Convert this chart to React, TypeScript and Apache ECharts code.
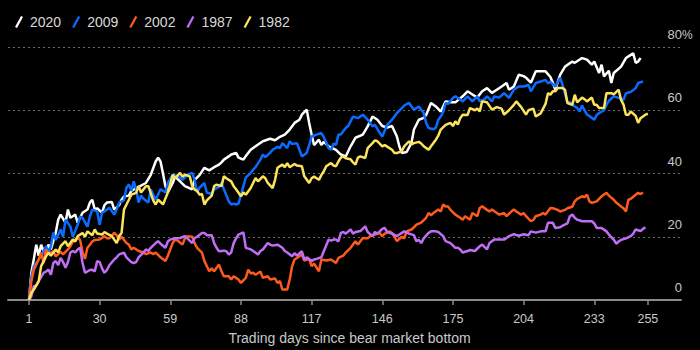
import React, { useEffect, useRef } from 'react';
import * as echarts from 'echarts';

const FONT = "'Liberation Sans', Arial, sans-serif";

const seriesNames = ['2020', '2009', '2002', '1987', '1982'];
const seriesColors = ['#ffffff', '#0a6cff', '#ff5a1e', '#bf6ef5', '#fde35c'];
const tickDays = [1, 30, 59, 88, 117, 146, 175, 204, 233, 255];
const axisTitle = 'Trading days since bear market bottom';

// [trading day, % gain]
const s2020 = [[1,0],[2,8.7],[3,13],[4,17.5],[5,14],[6,17.5],[7,15.5],[8,15],[9,17.5],[10,16],[12,21.3],[13,25.4],[14,27],[16,24.5],[17,28.6],[18,26],[19,26.5],[20,27],[21,24.5],[23,27.6],[25,28.6],[26,30.8],[27,31.7],[28,28.6],[29,29],[31,27.6],[32,30],[33,30.8],[35,31],[36,28.6],[38,30],[39,31.7],[40,32.7],[42,33],[43,34.5],[46,35.8],[49,37],[51,39.6],[53,43.8],[54,45],[55,43.8],[56,40],[57,36],[58,34],[60,37],[61,39],[63,37.5],[65,36],[68,35],[69,38],[71,39.5],[73,41.8],[75,41],[77,42],[79,42.8],[80,43.5],[81,44.4],[83,45.4],[84,46],[86,46.5],[87,45],[89,44.4],[90,45.5],[92,47.5],[94,48.6],[97,50.2],[100,51],[102,50.5],[104,51.6],[106,52.3],[108,53.9],[110,56],[112,57],[113,58.6],[115,60.2],[116,56],[117,52.3],[118,49],[120,50.7],[121,49],[122,50],[124,48.6],[127,47.5],[129,46],[131,45.4],[133,48.6],[135,51.3],[138,52.3],[140,54.9],[142,58],[144,57],[146,55],[148,54.5],[150,55],[152,51.7],[153,48.6],[154,46.5],[156,46.8],[158,49.7],[159,53.9],[161,57],[163,57.6],[164,58.5],[166,62.3],[168,61.2],[170,59.6],[172,62.8],[174,62.5],[176,62.5],[179,64.4],[181,66],[183,65],[185,64],[187,66],[189,67],[191,65.5],[193,66.5],[195,67.5],[197,68.6],[198,66.5],[200,67.5],[202,71.2],[204,70.8],[205,70.3],[207,68.7],[209,72.3],[211,72.3],[213,72.3],[215,70.5],[216,68.7],[217,66.5],[219,71.2],[221,73.8],[224,75.4],[225,75],[228,76.5],[230,76],[232,74.4],[233,75.4],[235,71.8],[236,74.4],[237,70.7],[239,72.5],[240,68.6],[241,71.8],[244,73.8],[246,76.5],[248,77.5],[249,78],[250,75],[251,75.4],[252,76.5]];

const s2009 = [[1,1],[2,7.4],[3,10.6],[5,12.8],[6,13.8],[8,17],[9,15],[10,17],[11,21.3],[12,19],[14,22.3],[15,20],[16,25.4],[18,23.2],[19,20],[21,23.8],[22,26.4],[23,26],[25,23.2],[26,26.4],[27,28.6],[29,28],[30,23.8],[31,27.6],[32,28],[34,29.2],[36,27],[37,28.6],[38,30.8],[40,31.5],[41,35.5],[42,36.5],[43,34.5],[44,37.5],[45,35],[46,30.8],[47,33],[48,32],[50,30.8],[51,35],[53,31.7],[55,35],[57,34],[58,37],[60,39.6],[62,39.3],[64,38],[66,39.6],[68,40.2],[69,38],[70,34],[71,35.5],[73,37],[74,34],[76,33.5],[77,35],[79,35.8],[80,37],[81,35],[83,31.2],[84,30.2],[85,30.5],[86,30.2],[87,30.5],[89,36],[90,38.7],[92,40.2],[93,41.2],[94,42],[96,44.4],[97,46],[98,45.2],[100,46.6],[101,47.5],[103,48.4],[104,48],[105,49.6],[107,48],[108,50.2],[109,49.3],[111,49.6],[112,47.5],[113,45.4],[115,46.5],[116,49],[117,51.7],[119,52.3],[121,52.8],[122,51.5],[124,48],[125,47.5],[126,49.5],[127,49],[128,52.3],[129,52.3],[131,54.4],[132,55],[134,58],[136,57.5],[138,58.6],[140,57],[142,54.9],[143,55.4],[145,52.8],[146,51.7],[148,55.4],[150,57],[152,59.1],[154,60.7],[155,61.5],[157,62.3],[158,61.2],[159,60.2],[161,61.2],[163,59.1],[164,56],[165,54.4],[167,54],[168,54.5],[169,57],[170,58],[171,59.5],[172,62.3],[173,62],[175,63.9],[176,64.4],[179,62.8],[181,64.4],[183,62.8],[185,64.4],[186,62.8],[188,63.5],[189,64.4],[191,62.8],[192,64.4],[194,64],[196,65.4],[198,63.9],[200,66.5],[202,67.5],[204,67.5],[206,68],[207,66],[209,68.6],[211,69.1],[213,69.6],[214,68.5],[215,69],[217,67.5],[219,70.2],[220,68],[222,62.3],[223,62.6],[224,61.7],[226,60.7],[227,59.6],[228,61.5],[230,58.6],[231,58.2],[233,57],[234,58.5],[235,59.1],[237,60],[238,61.7],[239,63],[241,64.4],[243,63.9],[245,63.3],[246,65.4],[248,65.8],[250,67],[251,68.6],[253,69.1]];

const s2002 = [[1,0],[2,6],[3,9.6],[5,12.8],[6,15],[7,11.7],[8,16],[9,14.5],[11,15.4],[12,13.8],[14,15.2],[15,14.4],[17,16],[18,17],[19,18.5],[21,19.6],[22,19],[23,15],[24,13],[25,16.5],[26,17.5],[27,18.5],[28,19],[30,19.1],[32,20.2],[33,19.5],[34,19.5],[36,21.2],[37,20.5],[38,19.1],[39,20],[41,18],[42,17.5],[43,16],[44,16.5],[46,15.5],[48,15],[49,14.5],[51,15],[52,14.5],[53,15],[55,13.5],[57,12.3],[58,14],[60,18],[61,19.1],[62,18.8],[64,17.5],[65,19.5],[66,20.2],[68,20],[69,18],[70,16.5],[72,15],[73,12.3],[75,9.1],[76,10],[77,9.1],[79,11.2],[80,9.1],[81,7.5],[83,7.5],[84,6.5],[85,7.5],[86,7],[87,6.5],[88,5.4],[90,7],[91,9.6],[92,8.4],[93,8.6],[94,8],[96,9],[97,7],[99,7.5],[100,6.5],[102,6.8],[103,5.4],[104,6],[105,3.3],[107,3.3],[108,6.5],[109,10.7],[110,12.8],[111,13.3],[113,14.4],[114,12.5],[116,13],[117,10.7],[118,11.5],[120,9.1],[121,12.8],[123,12.5],[125,12.8],[127,11.7],[128,13.3],[130,14],[131,15],[133,16.5],[135,18.6],[136,17.5],[137,18.6],[138,19.6],[140,19.5],[141,20.2],[143,20.7],[145,21.2],[146,20.2],[147,21],[149,21.7],[150,21.2],[151,20],[152,18.6],[154,20],[155,19.5],[156,21.7],[158,22.3],[159,23],[160,23.8],[162,24.5],[164,26],[165,27.5],[166,26.8],[167,27.5],[169,28.6],[170,28],[171,30.2],[172,29.6],[173,29.6],[174,28.5],[176,27],[178,26],[179,25.4],[180,26.5],[182,25.4],[183,27.5],[185,26.5],[186,29.1],[187,29.6],[189,28.5],[190,28],[191,28.6],[193,27.5],[194,27],[196,27.5],[197,26.5],[199,28],[200,28.6],[201,28],[203,27],[204,27.5],[205,26.5],[207,24.9],[208,25.3],[209,26.5],[211,27],[212,27.5],[213,27],[215,29.1],[216,29],[218,28.5],[219,28],[221,28.5],[222,29],[224,29.5],[225,31.2],[226,32],[228,32.8],[229,32.5],[230,33.3],[231,31.2],[232,30.7],[234,31.2],[236,32.8],[238,33.9],[239,33],[241,31.7],[242,30.8],[244,29.6],[245,29],[246,28],[247,31.7],[248,32],[250,33.3],[251,33.9],[252,33.5],[253,34]];

const s1987 = [[1,0],[2,1.2],[3,4.4],[4,4.5],[5,6],[7,8.6],[8,9],[9,9.6],[10,8],[11,11.7],[12,12.3],[13,11],[14,13.3],[15,12],[16,10.2],[17,12],[18,15],[19,15.5],[20,15],[21,16],[22,16.5],[23,11.7],[24,8.6],[26,9.5],[27,9.6],[28,9],[29,12.3],[30,12],[31,10],[32,8.6],[33,9.5],[34,11],[36,12.8],[37,13.5],[38,14.4],[40,15],[41,13.5],[43,12],[44,11.7],[45,12],[46,13.5],[48,15],[49,16],[50,15.5],[51,16.5],[53,18],[54,18.6],[55,17.8],[57,16.5],[58,18.5],[59,19.1],[61,19.5],[63,19.6],[65,20.2],[66,19.5],[68,18],[69,19.6],[70,20],[72,21.2],[73,21.2],[74,20.5],[76,20.5],[77,18],[78,16.5],[79,15.4],[80,15.5],[81,15.6],[82,15.4],[83,14.4],[84,15],[85,18],[86,19.5],[87,20.7],[89,21.4],[90,16.5],[92,16],[93,15.5],[95,14.4],[96,15.5],[97,16],[99,18],[100,17.5],[101,17.2],[103,17.5],[105,16.5],[106,15.5],[107,15],[109,13.8],[110,14.8],[111,14],[113,15.4],[114,12.8],[115,13.5],[117,12.3],[118,12.8],[119,13],[121,13.5],[122,15.4],[124,19.1],[125,18.8],[126,19.1],[127,19.1],[128,18.5],[129,21.2],[130,21.5],[131,21],[133,22.3],[134,21],[135,21.5],[137,21.8],[139,23.3],[140,21.5],[142,20.2],[143,21.5],[144,21],[146,22.5],[147,22.8],[148,21.5],[150,21],[152,20.2],[153,20.7],[155,21.7],[157,21],[159,20.5],[160,18.6],[161,19],[162,18],[163,19.5],[165,21.2],[166,21.7],[168,21.7],[169,21.5],[171,20.2],[172,18.6],[174,18],[176,16.5],[177,16.5],[178,16],[179,15],[181,15.5],[182,15.8],[184,15.5],[186,17],[187,17.5],[189,16],[190,18],[192,19.1],[194,19.1],[196,19.1],[197,19.6],[198,20.2],[200,20.8],[202,20.3],[204,20.8],[206,20.5],[207,21.7],[209,21.3],[211,21.7],[213,21.7],[214,24.4],[216,24.4],[217,22.8],[219,23],[220,23.5],[222,24.2],[223,26.5],[224,27],[225,26],[226,25.4],[228,24.9],[230,24.9],[232,24.9],[233,24.2],[234,22.8],[236,22.8],[238,21.7],[239,20.7],[241,19.1],[242,17.8],[243,18.5],[244,19],[246,19.5],[248,20.2],[249,21],[250,22.3],[252,21.8],[253,22.5],[254,23]];

const s1982 = [[1,0],[2,2.3],[3,3.3],[5,6],[6,10.7],[8,13.8],[9,15],[10,14],[12,16],[13,15],[14,17],[16,18.6],[17,17],[19,19.1],[20,18.5],[21,20.2],[23,21.2],[24,20],[25,21.7],[27,20.5],[28,22.3],[29,21],[31,20.7],[32,21.5],[33,21],[35,20.2],[36,19.1],[37,18],[38,20.2],[39,21.2],[40,28.6],[42,31.7],[43,33.3],[45,33.9],[46,36],[47,34],[49,36],[50,36],[52,31.5],[53,30.2],[54,31.7],[55,31],[56,30.2],[58,34],[60,39.6],[61,38.5],[63,40.2],[64,39],[65,39.6],[67,39.1],[68,36],[69,34.9],[70,34.5],[71,33.3],[72,33.5],[73,30.2],[74,31.5],[76,33],[77,36],[78,36.5],[80,36],[81,39.1],[82,38.5],[84,37.5],[85,36],[86,35],[88,32.8],[89,34],[90,33.3],[92,35.4],[93,37],[94,38.6],[95,37.5],[97,39.1],[98,38.5],[99,37],[101,35.4],[102,38],[103,41.8],[105,42.8],[106,42],[107,43.3],[108,42],[110,43],[111,42.5],[113,42.3],[114,39.1],[116,37],[117,38.5],[118,39],[120,38],[121,39.5],[122,40.7],[123,42.3],[125,43.3],[126,42.5],[127,42.3],[128,43.8],[129,45],[130,45.4],[131,44.8],[133,44.5],[134,43.5],[135,42.8],[136,45],[137,45.4],[139,44.9],[140,48],[142,49.6],[143,50.5],[144,50.2],[146,48.6],[147,49],[148,48.5],[150,47.5],[151,46.5],[152,46.5],[154,47],[155,48.6],[157,50.2],[158,49.2],[159,49.6],[161,50],[162,49.5],[163,48.6],[165,47.5],[166,48.6],[168,50.7],[169,52],[170,53.9],[172,55.4],[174,56],[175,55],[176,56.5],[177,55.5],[178,57.5],[179,58.6],[181,58.5],[182,60.7],[184,60],[185,60.5],[186,59.6],[187,62.8],[189,62.5],[191,60.2],[193,61],[195,60.5],[196,58.6],[198,60],[200,61.7],[201,62.8],[203,61],[204,59.8],[205,58.6],[206,60],[208,60.5],[209,58],[211,59],[213,62],[214,65.4],[215,64.9],[216,66],[217,66],[218,67],[220,67],[221,66.5],[222,62.3],[224,61.7],[225,64.9],[226,62.5],[228,64],[229,63.5],[230,62.8],[232,64],[233,61.7],[234,61.7],[235,60.7],[237,60.7],[238,65.4],[240,65.4],[241,65],[243,66.5],[244,63.3],[245,61.8],[246,58.6],[247,58.6],[248,59.6],[250,58.2],[251,56],[252,57.5],[254,58.6],[255,58.9]];

const seriesData = [s2020, s2009, s2002, s1987, s1982];

export default function App() {
  const ref = useRef<HTMLDivElement>(null);
  useEffect(() => {
    const chart = echarts.init(ref.current!, null, { renderer: 'svg' });
    chart.setOption({
      animation: false,
      backgroundColor: '#000000',
      textStyle: { fontFamily: FONT },
      grid: { left: 8, right: 19, top: 47, bottom: 49.5 },
      legend: {
        left: 10,
        top: 10,
        itemWidth: 8,
        itemHeight: 13,
        itemGap: 11,
        icon: 'path://M0,11 L6,0 L8,1.2 L2,12.2 Z',
        textStyle: { color: '#d8d8d8', fontSize: 14, fontFamily: FONT, padding: [0, 0, 0, 2] },
        data: seriesNames,
      },
      xAxis: {
        type: 'value',
        min: -7.6,
        max: 268.6,
        axisLine: { show: true, onZero: false, lineStyle: { color: '#8a8a8a', width: 2 } },
        axisTick: { show: true, customValues: tickDays, length: 5, lineStyle: { color: '#8a8a8a', width: 1.5 } },
        axisLabel: { customValues: tickDays, color: '#c8c8c8', fontSize: 12.5, margin: 12, fontFamily: FONT },
        splitLine: { show: false },
        name: axisTitle,
        nameLocation: 'middle',
        nameGap: 31,
        nameTextStyle: { color: '#c8c8c8', fontSize: 14, fontFamily: FONT, padding: [0, 0, 0, 10] },
      },
      yAxis: {
        type: 'value',
        position: 'right',
        min: 0,
        max: 80,
        interval: 20,
        axisLine: { show: false },
        axisTick: { show: false },
        axisLabel: {
          inside: true,
          margin: -1,
          color: '#c8c8c8',
          fontSize: 13,
          fontFamily: FONT,
          verticalAlign: 'bottom',
          padding: [0, 0, 6, 0],
        },
        splitLine: { show: true, lineStyle: { color: '#6a6a6a', type: [2, 3], width: 1 } },
      },
      graphic: [
        {
          type: 'text',
          x: 682,
          y: 41,
          silent: true,
          style: { text: '%', fill: '#c8c8c8', fontSize: 12, fontFamily: FONT, textVerticalAlign: 'bottom', textAlign: 'left' },
        },
      ],
      series: seriesNames.map((name, i) => ({
        name,
        type: 'line',
        data: seriesData[i],
        showSymbol: false,
        symbol: 'none',
        color: seriesColors[i],
        lineStyle: { color: seriesColors[i], width: 2.5 },
        emphasis: { disabled: true },
      })),
    });
    return () => chart.dispose();
  }, []);
  return (
    <div
      ref={ref}
      style={{ position: 'fixed', left: 0, top: 0, width: 700, height: 350, background: '#000' }}
    />
  );
}
